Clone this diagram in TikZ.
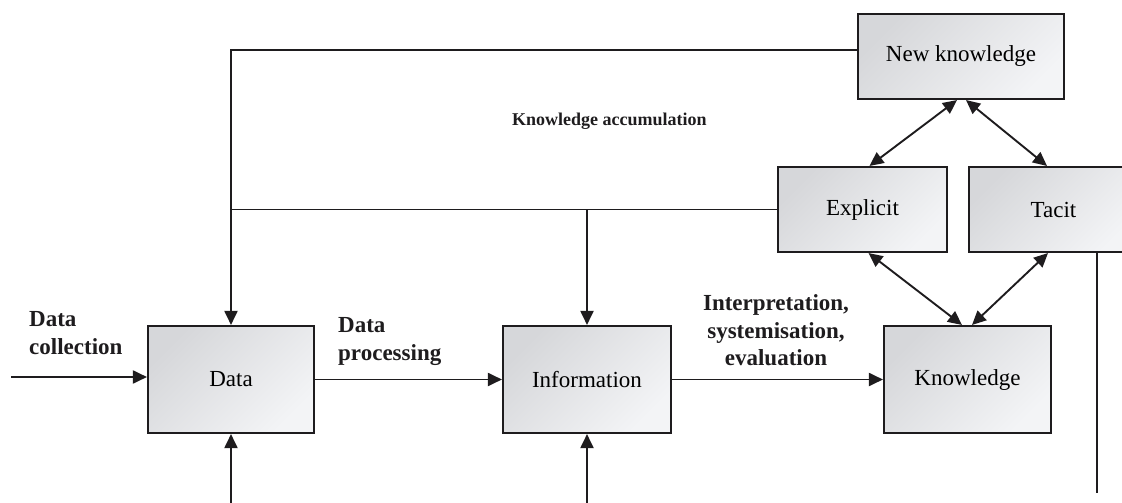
\documentclass[tikz,border=0pt]{standalone}
\usepackage{fontspec}
\setmainfont{Liberation Serif}
\usetikzlibrary{arrows.meta}

\definecolor{boxdark}{RGB}{214,215,218}
\definecolor{boxlight}{RGB}{243,244,246}
\definecolor{ink}{RGB}{30,28,30}

\tikzset{
  kbox/.style={draw=ink, line width=2.1pt, top color=boxdark, bottom color=boxlight,
    shading angle=45, inner sep=0pt, font=\fontsize{23}{27}\selectfont},
  link/.style={draw=ink, line width=1.9pt},
  arr/.style={link, -{Triangle[length=14pt,width=13pt]}},
  biarr/.style={link, {Triangle[length=14pt,width=13pt]}-{Triangle[length=14pt,width=13pt]}},
  steplabel/.style={inner sep=0pt, font=\fontsize{23}{27.5}\selectfont\bfseries, text=ink},
}

\begin{document}
\begin{tikzpicture}[x=1pt, y=-1pt]
\useasboundingbox (0,0) rectangle (1122,503);
\clip (0,0) rectangle (1122,503);

% boxes
\node[kbox, minimum width=206pt, minimum height=85pt]  (nk)       at (961,56.5)    {New knowledge};
\node[kbox, minimum width=169pt, minimum height=85pt]  (explicit) at (862.5,209.5) {Explicit};
\node[kbox, minimum width=169pt, minimum height=85pt]  (tacit)    at (1053.5,209.5){Tacit};
\node[kbox, minimum width=166pt, minimum height=107pt] (data)     at (231,379.5)   {Data};
\node[kbox, minimum width=168pt, minimum height=107pt] (info)     at (587,379.5)   {Information};
\node[kbox, minimum width=167pt, minimum height=107pt] (know)     at (967.5,379.5) {Knowledge};

% free ends of the connectors
\coordinate (dcin)      at (11,377);
\coordinate (topL)      at (231,50);
\coordinate (midL)      at (231,209.5);
\coordinate (dbot)      at (231,503);
\coordinate (ibot)      at (587,503);
\coordinate (tacitfoot) at (1097,493);

% main flow
\draw[arr] (dcin) -- (dcin -| data.west);
\draw[arr] (data.east) -- (info.west);
\draw[arr] (info.east) -- (know.west);

% feedback loops
\draw[arr] (nk.west |- topL) -- (topL) -- (data.north);
\draw[link] (explicit.west) -- (midL);
\draw[arr] (explicit.west -| info.north) -- (info.north);
\draw[arr] (dbot) -- (data.south);
\draw[arr] (ibot) -- (info.south);
\draw[link] (tacit.south -| tacitfoot) -- (tacitfoot);

% knowledge conversion
\draw[biarr] ([xshift=-4pt]nk.south) -- ([xshift=7pt]explicit.north);
\draw[biarr] ([xshift=5pt]nk.south) -- ([xshift=-6.5pt]tacit.north);
\draw[biarr] ([xshift=6pt]explicit.south) -- ([xshift=-5.5pt]know.north);
\draw[biarr] ([xshift=-5.5pt]tacit.south) -- ([xshift=4.5pt]know.north);

% labels
\node[steplabel, anchor=west, align=left] (lcoll) at (29,333) {Data\\collection};
\node[steplabel, anchor=west, align=left] (lproc) at (338,341.5) {Data\\processing};
\node[steplabel, align=center] (linterp) at (776,330.5) {Interpretation,\\systemisation,\\evaluation};
\node[inner sep=0pt, anchor=west, font=\fontsize{18}{21}\selectfont\bfseries, text=ink] (laccum) at (512,121) {Knowledge accumulation};
\end{tikzpicture}
\end{document}
